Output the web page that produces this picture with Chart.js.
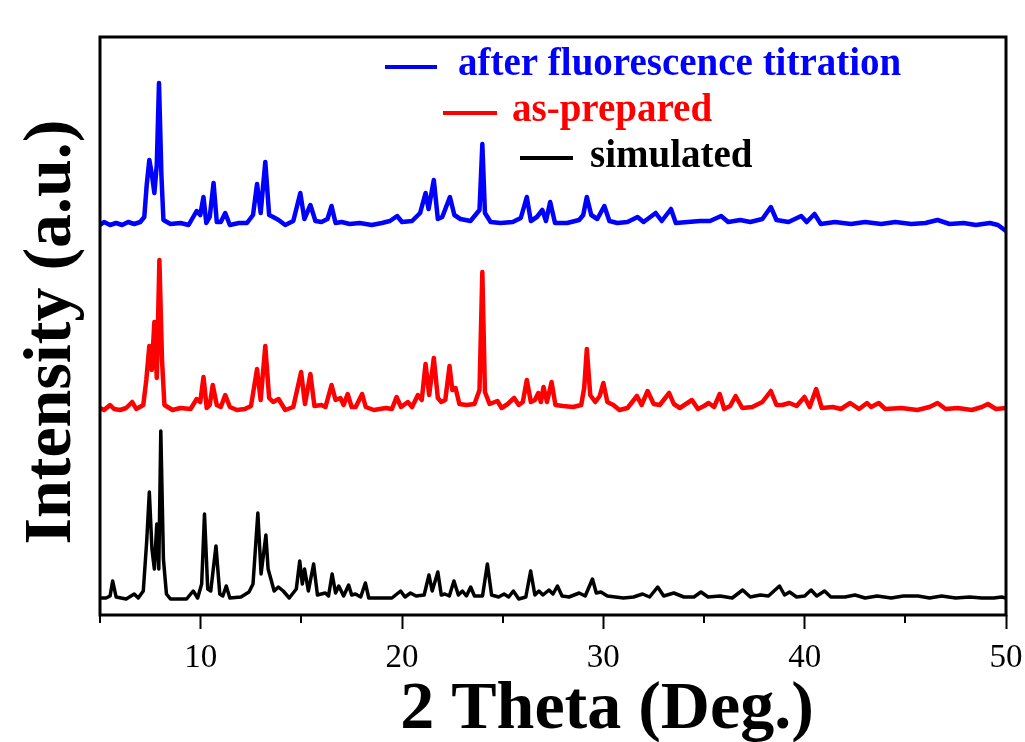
<!DOCTYPE html>
<html>
<head>
<meta charset="utf-8">
<script src="https://cdn.jsdelivr.net/npm/chart.js@4/dist/chart.umd.min.js"></script>
<style>
  body { margin: 0; background: #fff; }
  canvas { display: block; }
</style>
</head>
<body>
<canvas id="xrd" width="1025" height="742"></canvas>
<script>
// series names and vertical offsets (stacking)
const seriesNames = ['after fluorescence titration', 'as-prepared', 'simulated'];
const seriesOffsets = [390, 205, 16];
const majorTicks = [10, 20, 30, 40, 50];
const minorTicks = [5, 15, 25, 35, 45];

// [2theta, intensity], baseline = 0
const simulated = [
  [5.0, 1], [5.3, 1], [5.5, 3], [5.63, 18], [5.8, 2], [6.3, 0], [6.7, 5], [6.9, 1],
  [7.15, 8], [7.32, 58], [7.45, 107], [7.58, 50], [7.7, 30], [7.82, 75], [7.92, 30],
  [8.02, 168], [8.15, 40], [8.3, 5], [8.5, 0], [9.3, 0], [9.63, 8], [9.85, 1],
  [10.05, 15], [10.19, 85], [10.35, 10], [10.5, 8], [10.76, 53], [10.95, 5], [11.1, 3],
  [11.27, 13], [11.45, 1], [12.0, 2], [12.4, 7], [12.6, 15], [12.84, 86], [13.0, 25],
  [13.24, 64], [13.35, 30], [13.46, 22], [13.65, 8], [13.86, 12], [14.1, 8], [14.4, 1],
  [14.75, 10], [14.92, 38], [15.05, 15], [15.16, 30], [15.35, 8], [15.61, 35], [15.8, 4],
  [16.19, 6], [16.35, 3], [16.53, 25], [16.7, 6], [16.86, 13], [17.1, 3], [17.35, 14],
  [17.5, 4], [17.69, 5], [17.95, 2], [18.18, 16], [18.35, 1], [19.5, 1], [19.93, 8],
  [20.15, 2], [20.42, 6], [20.7, 3], [21.1, 4], [21.34, 24], [21.5, 8], [21.78, 27],
  [21.95, 4], [22.13, 5], [22.35, 3], [22.58, 18], [22.8, 4], [23.0, 8], [23.2, 3],
  [23.41, 12], [23.6, 3], [24.0, 3], [24.24, 35], [24.45, 4], [24.8, 2], [25.07, 5],
  [25.3, 2], [25.53, 8], [25.8, 0], [26.15, 2], [26.39, 28], [26.6, 4], [26.8, 8],
  [27.0, 4], [27.3, 9], [27.5, 5], [27.72, 13], [27.95, 3], [28.3, 2], [28.8, 6],
  [29.1, 3], [29.46, 20], [29.65, 6], [29.88, 7], [30.2, 3], [31.0, 1], [31.5, 2],
  [31.95, 5], [32.3, 2], [32.7, 12], [33.0, 3], [33.5, 6], [34.0, 2], [34.5, 2],
  [34.85, 7], [35.2, 2], [35.8, 3], [36.4, 1], [36.92, 9], [37.3, 2], [37.8, 4],
  [38.2, 3], [38.75, 13], [39.0, 4], [39.25, 7], [39.6, 2], [40.0, 3], [40.32, 9],
  [40.6, 3], [40.99, 8], [41.3, 2], [42.0, 2], [42.5, 4], [43.0, 1], [43.6, 3],
  [44.3, 1], [44.9, 3], [45.63, 3], [46.2, 1], [46.8, 3], [47.5, 1], [48.2, 2],
  [48.8, 1], [49.4, 1], [49.78, 2], [50, 1]
];

const asPrepared = [
  [5.0, 2], [5.2, 0], [5.5, 5], [5.7, 1], [6.0, 0], [6.3, 2], [6.6, 8], [6.8, 1],
  [7.15, 5], [7.3, 30], [7.45, 64], [7.57, 40], [7.7, 88], [7.82, 32], [7.95, 150],
  [8.08, 50], [8.2, 5], [8.6, 0], [9.0, 2], [9.5, 1], [9.8, 11], [9.98, 8], [10.14, 33],
  [10.3, 2], [10.45, 5], [10.6, 25], [10.8, 5], [11.0, 3], [11.22, 15], [11.45, 3],
  [11.8, 0], [12.2, 1], [12.5, 4], [12.8, 41], [12.98, 10], [13.21, 64], [13.4, 12],
  [13.6, 8], [13.87, 11], [14.2, 0], [14.6, 3], [14.99, 38], [15.18, 6], [15.45, 36],
  [15.65, 4], [16.0, 5], [16.2, 3], [16.5, 25], [16.7, 10], [16.94, 12], [17.1, 5],
  [17.3, 16], [17.5, 3], [17.7, 3], [18.02, 16], [18.2, 3], [18.6, 0], [19.2, 2],
  [19.5, 1], [19.73, 13], [19.95, 3], [20.29, 8], [20.5, 3], [20.79, 15], [20.98, 10],
  [21.17, 46], [21.35, 15], [21.58, 52], [21.78, 12], [21.95, 8], [22.15, 10], [22.36, 44],
  [22.5, 20], [22.66, 22], [22.85, 6], [23.2, 5], [23.6, 6], [23.85, 20], [23.99, 138],
  [24.12, 18], [24.35, 6], [24.74, 9], [24.95, 2], [25.25, 6], [25.57, 12], [25.8, 5],
  [26.0, 8], [26.2, 30], [26.4, 8], [26.6, 10], [26.77, 17], [26.9, 8], [27.03, 23],
  [27.2, 8], [27.43, 28], [27.62, 5], [28.0, 4], [28.5, 3], [28.9, 5], [29.05, 22],
  [29.18, 61], [29.35, 15], [29.6, 8], [29.82, 14], [30.0, 27], [30.2, 8], [30.5, 5],
  [30.8, 0], [31.2, 2], [31.67, 14], [31.9, 5], [32.2, 19], [32.5, 6], [32.8, 5],
  [33.27, 17], [33.5, 6], [33.8, 2], [34.4, 10], [34.7, 1], [35.0, 4], [35.23, 7],
  [35.5, 3], [35.78, 16], [36.0, 1], [36.3, 4], [36.57, 14], [36.9, 2], [37.4, 3],
  [37.9, 8], [38.32, 19], [38.6, 5], [38.9, 5], [39.24, 7], [39.6, 4], [39.99, 13],
  [40.25, 3], [40.57, 21], [40.85, 2], [41.4, 3], [41.8, 1], [42.26, 7], [42.7, 1],
  [43.1, 7], [43.3, 3], [43.68, 7], [44.0, 1], [44.8, 2], [45.6, 0], [46.2, 3],
  [46.6, 7], [47.0, 1], [47.6, 2], [48.3, 0], [48.8, 3], [49.1, 6], [49.5, 1], [50, 2]
];

const afterTitration = [
  [5.0, 0], [5.2, 3], [5.5, 0], [5.8, 2], [6.1, 0], [6.4, 3], [6.7, 1], [7.0, 3],
  [7.2, 8], [7.32, 40], [7.45, 65], [7.58, 50], [7.7, 32], [7.82, 60], [7.93, 142],
  [8.05, 50], [8.15, 5], [8.5, 1], [9.0, 2], [9.4, 0], [9.8, 14], [9.98, 10],
  [10.14, 28], [10.28, 2], [10.45, 8], [10.64, 42], [10.8, 3], [11.0, 3], [11.22, 12],
  [11.45, 0], [11.9, 2], [12.3, 2], [12.6, 10], [12.8, 41], [12.98, 12], [13.21, 63],
  [13.4, 10], [13.6, 8], [13.87, 5], [14.2, 0], [14.6, 4], [14.95, 32], [15.15, 6],
  [15.45, 20], [15.7, 4], [16.0, 3], [16.3, 6], [16.5, 19], [16.7, 2], [17.0, 3],
  [17.4, 1], [17.9, 2], [18.5, 0], [19.0, 2], [19.4, 4], [19.76, 9], [20.0, 3],
  [20.5, 4], [20.9, 12], [21.17, 32], [21.32, 16], [21.58, 45], [21.78, 6], [22.0, 8],
  [22.38, 28], [22.6, 10], [22.9, 6], [23.4, 4], [23.85, 15], [23.99, 81], [24.12, 12],
  [24.4, 3], [24.9, 2], [25.5, 3], [25.9, 7], [26.2, 28], [26.4, 4], [26.7, 8],
  [26.97, 15], [27.15, 4], [27.36, 23], [27.6, 2], [28.2, 2], [28.8, 5], [29.0, 10],
  [29.18, 28], [29.4, 10], [29.7, 6], [30.05, 19], [30.3, 4], [30.7, 2], [31.2, 3],
  [31.7, 8], [32.0, 3], [32.6, 12], [32.9, 4], [33.36, 16], [33.6, 2], [34.2, 3],
  [34.8, 4], [35.3, 4], [35.85, 9], [36.2, 3], [36.8, 5], [37.3, 3], [37.9, 6],
  [38.32, 18], [38.6, 5], [39.2, 3], [39.83, 9], [40.1, 3], [40.49, 11], [40.8, 1],
  [41.5, 3], [42.3, 1], [43.0, 3], [43.8, 1], [44.5, 3], [45.3, 1], [46.0, 2],
  [46.6, 5], [47.2, 1], [47.9, 2], [48.5, 0], [49.2, 2], [49.6, 0], [50, -6]
];

const seriesData = [afterTitration, asPrepared, simulated];
const seriesColors = ['#0000ff', '#ff0000', '#000000'];
const serif = "'Liberation Serif', 'Times New Roman', serif";

function shift(points, offset) {
  return points.map(p => ({ x: p[0], y: p[1] + offset }));
}

const datasets = seriesData.map((pts, i) => ({
  label: seriesNames[i],
  data: shift(pts, seriesOffsets[i]),
  borderColor: seriesColors[i],
  borderWidth: i == 2 ? 3.5 : 4.5,
  borderJoinStyle: 'round',
  pointRadius: 0,
  tension: 0,
  fill: false
}));

// frame, minor ticks, axis titles and the hand placed legend
const decorations = {
  id: 'decorations',
  afterDraw(chart) {
    const ctx = chart.ctx;
    const a = chart.chartArea;
    const xs = chart.scales.x;
    ctx.save();
    ctx.strokeStyle = '#000';
    ctx.lineWidth = 3;
    ctx.strokeRect(a.left, a.top, a.right - a.left, a.bottom - a.top);

    ctx.lineWidth = 2;
    ctx.beginPath();
    minorTicks.forEach(v => {
      const px = Math.round(xs.getPixelForValue(v));
      ctx.moveTo(px, a.bottom);
      ctx.lineTo(px, a.bottom + 8);
    });
    ctx.stroke();

    ctx.fillStyle = '#000';
    ctx.font = 'bold 68px ' + serif;
    ctx.textAlign = 'center';
    ctx.textBaseline = 'alphabetic';
    ctx.fillText('2 Theta (Deg.)', 607, 728);

    ctx.translate(70, 332);
    ctx.rotate(-Math.PI / 2);
    ctx.fillText('Intensity (a.u.)', 0, 0);
    ctx.restore();

    const legendPos = [
      { x1: 385, x2: 437, ly: 67, tx: 458, ty: 75 },
      { x1: 443, x2: 497, ly: 113, tx: 512, ty: 121 },
      { x1: 520, x2: 573, ly: 158, tx: 590, ty: 167 }
    ];
    ctx.save();
    ctx.font = 'bold 39px ' + serif;
    ctx.textAlign = 'left';
    ctx.lineWidth = 4;
    legendPos.forEach((p, i) => {
      ctx.strokeStyle = seriesColors[i];
      ctx.fillStyle = seriesColors[i];
      ctx.beginPath();
      ctx.moveTo(p.x1, p.ly);
      ctx.lineTo(p.x2, p.ly);
      ctx.stroke();
      ctx.fillText(seriesNames[i], p.tx, p.ty);
    });
    ctx.restore();
  }
};

const whiteBg = {
  id: 'whiteBg',
  beforeDraw(chart) {
    const ctx = chart.ctx;
    ctx.save();
    ctx.fillStyle = '#fff';
    ctx.fillRect(0, 0, chart.width, chart.height);
    ctx.restore();
  }
};

new Chart(document.getElementById('xrd'), {
  type: 'line',
  data: { datasets: datasets },
  options: {
    responsive: false,
    animation: false,
    layout: { padding: { top: 37, right: 19, left: 0, bottom: 0 } },
    plugins: { legend: { display: false }, tooltip: { enabled: false } },
    scales: {
      x: {
        type: 'linear',
        min: 5,
        max: 50,
        afterFit(scale) {
          scale.height = 127;
          scale.paddingLeft = 0;
          scale.paddingRight = 0;
        },
        afterBuildTicks(scale) {
          scale.ticks = majorTicks.map(v => ({ value: v }));
        },
        border: { display: false },
        grid: {
          drawOnChartArea: false,
          drawTicks: true,
          tickLength: 14,
          tickWidth: 2,
          tickColor: '#000'
        },
        ticks: {
          autoSkip: false,
          maxRotation: 0,
          padding: 10,
          color: '#000',
          font: { family: serif, size: 33 }
        }
      },
      y: {
        min: 0,
        max: 578,
        afterFit(scale) { scale.width = 100; },
        border: { display: false },
        grid: { display: false },
        ticks: { display: false }
      }
    }
  },
  plugins: [whiteBg, decorations]
});
</script>
</body>
</html>
